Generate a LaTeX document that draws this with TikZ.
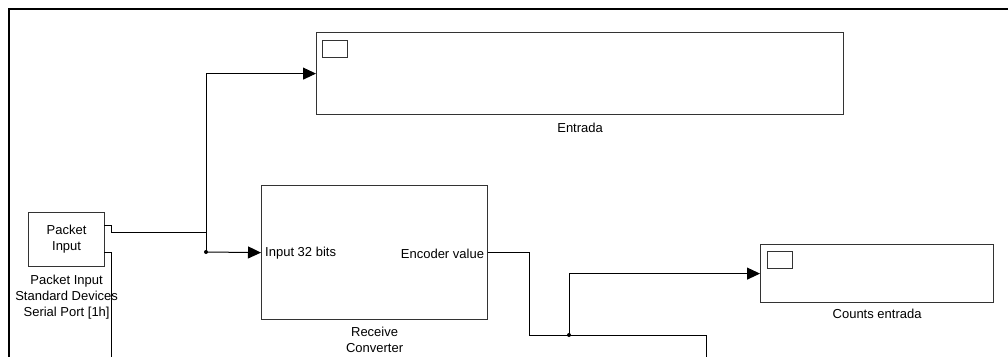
\documentclass[tikz,border=0pt]{standalone}
\usepackage{fontspec}
\setmainfont{Liberation Sans}
\usetikzlibrary{arrows.meta,positioning}

\tikzset{
    block/.style={draw=black!80, line width=1.2pt, fill=white, inner sep=0pt, anchor=north west},
    lbl/.style={font=\fontsize{13}{16}\selectfont, align=center, inner sep=0pt},
    wire/.style={line width=1pt},
    sig/.style={wire, -{Triangle[length=13pt,width=12pt]}},
    junc/.style={circle, fill, inner sep=0pt, minimum size=4pt},
}

\begin{document}
\begin{tikzpicture}[x=1pt, y=-1pt]
    \useasboundingbox (0,0) rectangle (1008,356);
    \clip (0,0) rectangle (1008,356);

    % frame
    \draw[line width=2.2pt] (9,370) -- (9,9) -- (1020,9);

    % blocks
    \node[block, minimum width=76pt, minimum height=54pt] (pin) at (28,212) {};
    \node[lbl] at (pin.center) {Packet\\Input};
    \node[lbl, below=8pt of pin] (pinlbl) {Packet Input\\Standard Devices\\Serial Port [1h]};

    \node[block, minimum width=527pt, minimum height=82pt] (ent) at (316,32) {};
    \node[block, line width=1pt, minimum width=25pt, minimum height=17pt] (entscr) at (322,40) {};
    \node[lbl, below=8pt of ent] (entlbl) {Entrada};

    \node[block, minimum width=226pt, minimum height=134pt] (rc) at (261,185) {};
    \node[lbl, anchor=west] (rcin) at ([xshift=4pt,yshift=-1pt]rc.west) {Input 32 bits};
    \node[lbl, anchor=east] (rcout) at ([xshift=-4pt,yshift=-1pt]rc.east) {Encoder value};
    \node[lbl, below=7pt of rc] (rclbl) {Receive\\Converter};

    \node[block, minimum width=233pt, minimum height=58pt] (ce) at (760,244) {};
    \node[block, line width=1pt, minimum width=25pt, minimum height=17pt] (cescr) at (767,251) {};
    \node[lbl, below=6pt of ce] (celbl) {Counts entrada};

    % wiring
    \coordinate (pinA) at (104,225);
    \coordinate (pinB) at (104,252);
    \coordinate (tap) at (206,232);
    \node[junc] (j1) at (206,252) {};
    \node[junc] (j2) at (569,335) {};
    \coordinate (endA) at (111,370);
    \coordinate (endB) at (706,370);

    \draw[wire] (pinA) -- ++(7,0) |- (tap);
    \draw[sig] (tap) |- (ent.west);
    \draw[wire] (tap) -- (j1.center);
    \draw[sig] (j1.center) -- (rc.west);
    \draw[wire] (pinB) -- ++(7,0) -- (endA);

    \draw[wire] (rc.east) -- ++(41,0) |- (j2.center);
    \draw[wire] (j2.center) -| (endB);
    \draw[sig] (j2.center) |- (ce.west);
\end{tikzpicture}
\end{document}
